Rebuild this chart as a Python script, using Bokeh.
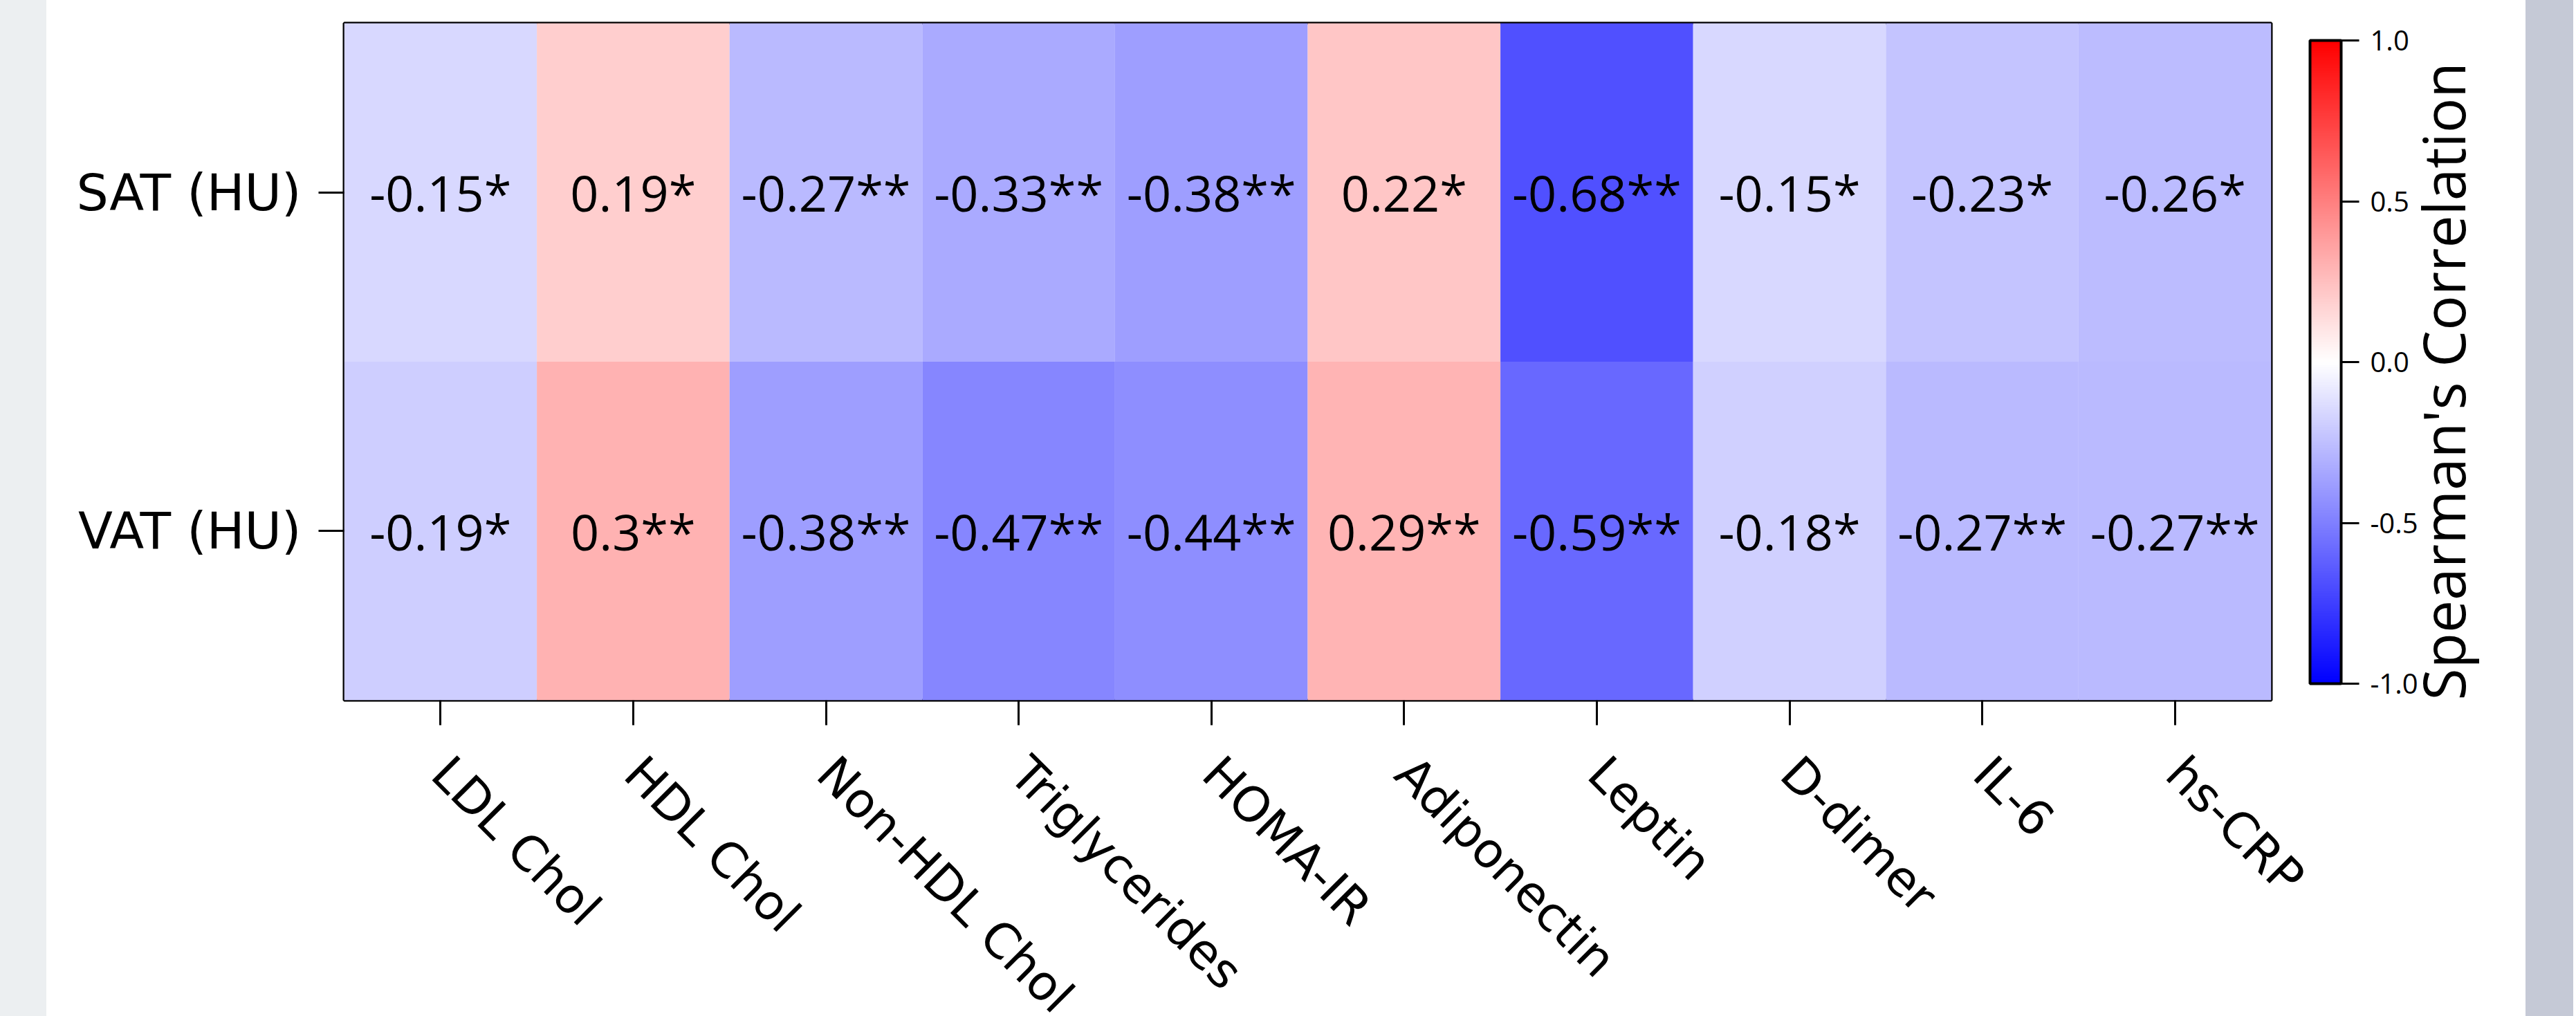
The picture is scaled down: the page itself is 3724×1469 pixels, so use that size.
from math import pi

from bokeh.core.properties import value
from bokeh.embed import file_html
from bokeh.layouts import row
from bokeh.models import (CategoricalAxis, ColorBar, ColumnDataSource, FactorRange,
                          FixedTicker, LinearColorMapper, PrintfTickFormatter, Spacer)
from bokeh.plotting import figure
from bokeh.resources import INLINE

# ---------------- data ----------------
markers = ["LDL Chol", "HDL Chol", "Non-HDL Chol", "Triglycerides", "HOMA-IR",
           "Adiponectin", "Leptin", "D-dimer", "IL-6", "hs-CRP"]
regions = ["SAT (HU)", "VAT (HU)"]
sat_rho = [-0.15, 0.19, -0.27, -0.33, -0.38, 0.22, -0.68, -0.15, -0.23, -0.26]
sat_sig = ["*", "*", "**", "**", "**", "*", "**", "*", "*", "*"]
vat_rho = [-0.19, 0.3, -0.38, -0.47, -0.44, 0.29, -0.59, -0.18, -0.27, -0.27]
vat_sig = ["*", "**", "**", "**", "**", "**", "**", "*", "**", "**"]
cbar_ticks = [-1.0, -0.5, 0.0, 0.5, 1.0]
cbar_title = "Spearman's Correlation"

# ---------------- palette (blue - white - red) ----------------
def bwr(n=256):
    cols = []
    for i in range(n):
        t = i / (n - 1) * 2 - 1
        if t < 0:
            g = round(255 * (1 + t))
            cols.append(f"#{g:02x}{g:02x}ff")
        else:
            g = round(255 * (1 - t))
            cols.append(f"#ff{g:02x}{g:02x}")
    return cols

palette = bwr()
mapper = LinearColorMapper(palette=palette, low=-1, high=1)

xs, ys, rho, lab = [], [], [], []
for reg, vals, sigs in ((regions[0], sat_rho, sat_sig), (regions[1], vat_rho, vat_sig)):
    for m, v, s in zip(markers, vals, sigs):
        xs.append(m)
        ys.append(reg)
        rho.append(v)
        lab.append(f"{v:g}{s}")
src = ColumnDataSource(dict(marker=xs, region=ys, rho=rho, label=lab))

p = figure(x_range=FactorRange(factors=markers),
           y_range=FactorRange(factors=regions[::-1]),
           frame_width=2786, frame_height=979,
           min_border_left=430, min_border_right=368,
           min_border_top=33, min_border_bottom=449,
           toolbar_location=None, tools="", output_backend="svg")

p.rect(x="marker", y="region", width=1, height=1, source=src,
       fill_color={"field": "rho", "transform": mapper}, line_color=None)
p.text(x="marker", y="region", text="label", source=src,
       text_align="center", text_baseline="middle",
       text_font=value("Open Sans"), text_font_size="72px", text_color="black")

p.grid.visible = False
p.background_fill_color = "white"
p.border_fill_color = "white"
p.outline_line_color = "black"
p.outline_line_width = 4
p.outline_line_alpha = 1

for ax in (p.xaxis[0], p.yaxis[0]):
    ax.axis_line_color = None
    ax.major_tick_in = 0
    ax.major_tick_line_width = 3
    ax.major_tick_line_color = "black"
    ax.minor_tick_line_color = None
    ax.major_label_text_font = "DejaVu Sans"
    ax.major_label_text_color = "black"

p.yaxis.major_tick_out = 37
p.yaxis.major_label_standoff = 25
p.yaxis.major_label_text_font_size = "73px"

p.xaxis.major_tick_out = 36
p.xaxis.major_label_standoff = 58
p.xaxis.major_label_text_font_size = "70px"
p.xaxis.major_label_orientation = -pi / 4

cb = ColorBar(color_mapper=mapper, orientation="vertical", width=45, height=930,
              location=(56, 24), padding=0, margin=0,
              ticker=FixedTicker(ticks=cbar_ticks),
              formatter=PrintfTickFormatter(format="%.1f"),
              major_tick_out=26, major_tick_in=0,
              major_tick_line_color="black", major_tick_line_width=3,
              minor_tick_line_color=None,
              bar_line_color="black", bar_line_width=4,
              label_standoff=16,
              major_label_text_font="Open Sans", major_label_text_font_size="40px",
              major_label_text_color="black",
              background_fill_color=None, border_line_color=None)
p.add_layout(cb, "right")

# colour-bar title as the label of an otherwise empty axis on the right
tax = CategoricalAxis(ticker=FixedTicker(ticks=[]),
                      axis_label=cbar_title, axis_line_color=None,
                      major_tick_line_color=None, minor_tick_line_color=None,
                      axis_label_standoff=33,
                      axis_label_text_font="Open Sans",
                      axis_label_text_font_size="84px",
                      axis_label_text_font_style="normal",
                      axis_label_text_color="black")
tax.axis_label_orientation = pi / 2
try:
    tax.axis_label_align = "start"
except Exception:
    try:
        tax.axis_label_align = "left"
    except Exception:
        pass
p.add_layout(tax, "right")

layout = row(Spacer(width=67, height=1469, styles={"background-color": "#eceff1"}),
             p,
             Spacer(width=69, height=1469, styles={"background-color": "#c5c9d6"}),
             styles={"overflow": "hidden", "max-height": "1469px", "max-width": "3724px"})

open("out.html", "w").write(file_html(layout, INLINE))
